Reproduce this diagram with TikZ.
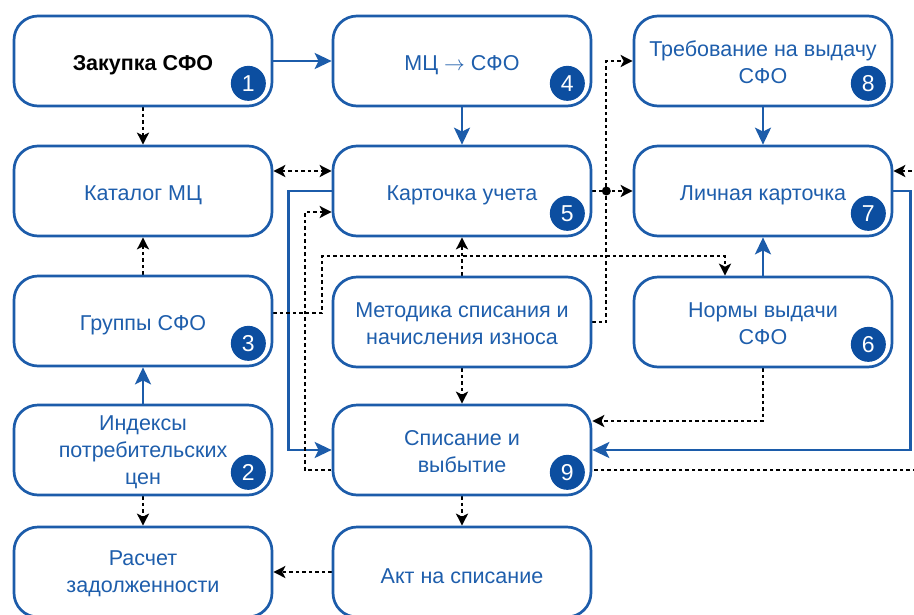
\documentclass[tikz,border=0pt]{standalone}
\usepackage{fontspec}
\setmainfont{Liberation Sans}
\usetikzlibrary{arrows.meta,backgrounds}
\definecolor{boxblue}{RGB}{28,92,170}
\definecolor{textblue}{RGB}{30,94,172}
\definecolor{badgeblue}{RGB}{12,78,160}

% box with its caption set slightly below the centre
\newcommand\cardat[5][]{%
  \node[card] (#2) at (#3) {};
  \node[cardtext,#1] (#2-t) at ([yshift=#4]#2.center) {#5};}

\begin{document}
\begin{tikzpicture}[x=1pt,y=-1pt,
  card/.style={draw=boxblue, line width=2.7pt, fill=white, rounded corners=24pt,
    minimum width=258pt, minimum height=90pt, inner sep=0pt},
  cardtext/.style={align=center, text=textblue, inner sep=0pt,
    font=\fontsize{21.5}{27}\selectfont},
  badge/.style={circle, fill=badgeblue, text=white, minimum size=35pt, inner sep=0pt,
    font=\fontsize{23}{23}\selectfont},
  flow/.style={draw=boxblue, line width=2.8pt, -{Stealth[length=17pt,width=16pt,inset=4pt]}},
  link/.style={draw=black, line width=1.9pt, dash pattern=on 3.5pt off 3pt,
    -{Stealth[length=12pt,width=12pt,inset=3pt]}},
  linkboth/.style={link, {Stealth[length=12pt,width=12pt,inset=3pt]}-{Stealth[length=12pt,width=12pt,inset=3pt]}},
]
\useasboundingbox (0,0) rectangle (914,614);
\clip (0,0) rectangle (914,614);

% column 1
\cardat[text=black, font=\bfseries\fontsize{21.5}{27}\selectfont]{b1}{143,61}{-4pt}{Закупка СФО}
\cardat{bcat}{143,191}{-4pt}{Каталог МЦ}
\cardat{b3}{143,321}{-4pt}{Группы СФО}
\cardat{b2}{143,450}{-2pt}{Индексы\\потребительских\\цен}
\cardat{brasch}{143,572}{-2pt}{Расчет\\задолженности}
% column 2
\cardat{b4}{462,61}{-4pt}{МЦ $\rightarrow$ СФО}
\cardat{b5}{462,191}{-4pt}{Карточка учета}
\cardat{bmet}{462,322}{-1.5pt}{Методика списания и\\начисления износа}
\cardat{b9}{462,450}{-1.5pt}{Списание и\\выбытие}
\cardat{bakt}{462,572}{-4pt}{Акт на списание}
% column 3
\cardat{b8}{763,61}{-1.5pt}{Требование на выдачу\\СФО}
\cardat{b7}{763,191}{-4pt}{Личная карточка}
\cardat{b6}{763,322}{-1.5pt}{Нормы выдачи\\СФО}

% step numbers
\foreach \b/\n in {b1/1,b2/2,b3/3,b4/4,b5/5,b6/6,b7/7,b8/8,b9/9}
  \node[badge] (\b-n) at ([xshift=-25pt,yshift=24pt]\b.south east) {\n};

\begin{scope}[on background layer]
  % main flow
  \draw[flow] (b1) -- (b4);
  \draw[flow] (b4) -- (b5);
  \draw[flow] (b8) -- (b7);
  \draw[flow] (b6) -- (b7);
  \draw[flow] (b2) -- (b3);
  \draw[flow] (b5.west) -- ++(-43,0) |- (b9.west);
  \draw[flow] (b7.east) -- ++(17,0) |- (b9.east);

  % information links
  \draw[link] (b1) -- (bcat);
  \draw[link] (b3) -- (bcat);
  \draw[link] (b2) -- (brasch);
  \draw[link] (bakt) -- (brasch);
  \draw[link] (bmet) -- (b5);
  \draw[link] (bmet) -- (b9);
  \draw[link] (b9) -- (bakt);
  \draw[linkboth] ([yshift=20pt]bcat.east) -- ([yshift=20pt]b5.west);
  \draw[link] (b5.east) -- (b7.west);
  \draw[link] (bmet.east) -- ++(14,0) |- (b8.west);
  \fill ([xshift=14pt]b5.east) circle (4.5pt);
  \draw[link] ([yshift=8pt]b3.east) -| (322,256) -| ([xshift=-38pt]b6.north);
  \draw[link] (b6.south) |- ([yshift=29pt]b9.east);
  \draw[linkboth] ([yshift=20pt]b7.east) -- (935,171) |- (305,470) |- ([yshift=-21pt]b5.west);
\end{scope}
\end{tikzpicture}
\end{document}
